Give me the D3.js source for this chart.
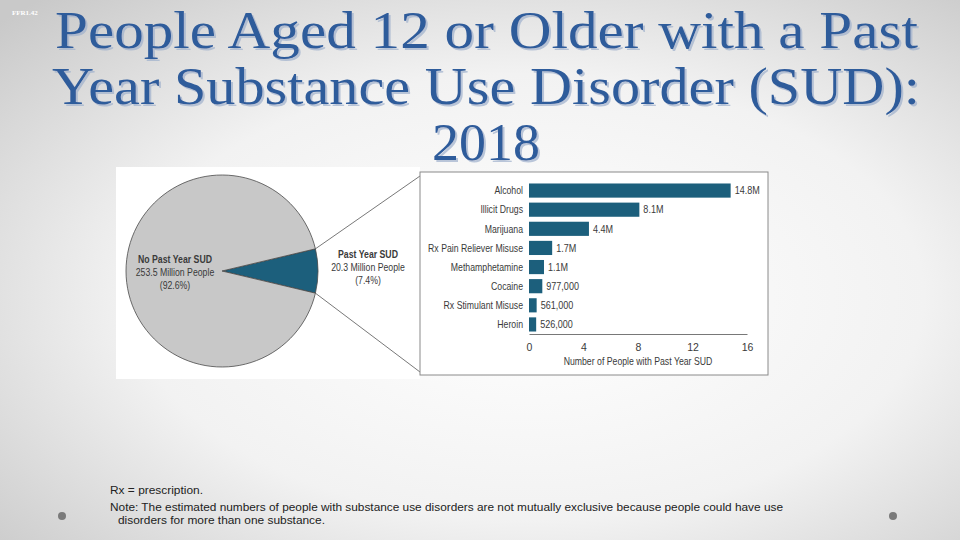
<!DOCTYPE html>
<html>
<head>
<meta charset="utf-8">
<script src="https://cdn.jsdelivr.net/npm/d3@7"></script>
<style>
  html, body { margin: 0; padding: 0; }
  body { width: 960px; height: 540px; overflow: hidden; }
  .narrow { font-family: "Liberation Sans Narrow", "Arial Narrow", "Liberation Sans", sans-serif; }
</style>
</head>
<body>
<svg id="slide" width="960" height="540"></svg>
<script>
'use strict';

// pie data (millions of people aged 12+)
var pieLabels = ["Past Year SUD", "No Past Year SUD"];
var pieValues = [20.3, 253.5];
var piePercents = ["7.4%", "92.6%"];

// bar data
var substances = ["Alcohol", "Illicit Drugs", "Marijuana", "Rx Pain Reliever Misuse",
                  "Methamphetamine", "Cocaine", "Rx Stimulant Misuse", "Heroin"];
var sudMillions = [14.8, 8.1, 4.4, 1.7, 1.1, 0.977, 0.561, 0.526];
var sudLabels = ["14.8M", "8.1M", "4.4M", "1.7M", "1.1M", "977,000", "561,000", "526,000"];
var xTicks = [0, 4, 8, 12, 16];

var titleLines = ["People Aged 12 or Older with a Past",
                  "Year Substance Use Disorder (SUD):",
                  "2018"];

var teal = "#1c5f7c";
var svg = d3.select("#slide");

// slide background
var defs = svg.append("defs");
var grad = defs.append("radialGradient").attr("id", "bg")
    .attr("cx", "0.55").attr("cy", "0.55").attr("r", "0.75");
grad.append("stop").attr("offset", "0%").attr("stop-color", "#ffffff");
grad.append("stop").attr("offset", "55%").attr("stop-color", "#f2f2f2");
grad.append("stop").attr("offset", "100%").attr("stop-color", "#c9c9c9");
var shadow = defs.append("filter").attr("id", "shadow")
    .attr("x", "-5%").attr("y", "-10%").attr("width", "110%").attr("height", "130%");
shadow.append("feDropShadow").attr("dx", 2).attr("dy", 2).attr("stdDeviation", 0.6)
    .attr("flood-color", "#9fb0cc").attr("flood-opacity", 0.7);
svg.append("rect").attr("width", 960).attr("height", 540).attr("fill", "url(#bg)");

svg.append("text")
    .attr("x", 12).attr("y", 15)
    .attr("font-family", "Liberation Serif, serif")
    .attr("font-size", 7).attr("font-weight", "bold")
    .attr("fill", "#ffffff")
    .text("FFR1.42");

// squeeze a text to look like a condensed face
function condense(sel, k) {
    sel.each(function () {
        var w = this.getComputedTextLength();
        d3.select(this).attr("textLength", w * k).attr("lengthAdjust", "spacingAndGlyphs");
    });
}

// title
function drawTitle() {
    var spans = [[55, 918], [52, 920], [432, 540]];
    var baselines = [48, 104, 160];
    titleLines.forEach(function (t, i) {
        svg.append("text")
            .attr("x", spans[i][0]).attr("y", baselines[i])
            .attr("font-family", "Liberation Serif, 'DejaVu Serif', serif")
            .attr("font-size", 53)
            .attr("fill", "#2f5b9b")
            .attr("filter", "url(#shadow)")
            .attr("textLength", spans[i][1] - spans[i][0])
            .attr("lengthAdjust", "spacingAndGlyphs")
            .text(t);
    });
}

function drawPie() {
    svg.append("rect").attr("x", 116).attr("y", 167).attr("width", 304).attr("height", 212)
        .attr("fill", "#ffffff");

    var cx = 222, cy = 271, r = 96;
    var total = d3.sum(pieValues);
    var a = 2 * Math.PI * pieValues[0] / total;
    var pie = d3.pie().sort(null)
        .startAngle(Math.PI / 2 - a / 2)
        .endAngle(Math.PI / 2 - a / 2 + 2 * Math.PI);
    var arcs = pie(pieValues);
    var arc = d3.arc().innerRadius(0).outerRadius(r);

    var g = svg.append("g").attr("transform", "translate(" + cx + "," + cy + ")");
    g.selectAll("path").data(arcs).enter().append("path")
        .attr("d", arc)
        .attr("fill", function (d, i) { return i === 0 ? teal : "#c8c8c8"; })
        .attr("stroke", "#4a4a4a").attr("stroke-width", 0.8);

    // connector lines from the slice edge to the bar box
    var s = arcs[0];
    var p1 = [cx + r * Math.sin(s.startAngle), cy - r * Math.cos(s.startAngle)];
    var p2 = [cx + r * Math.sin(s.endAngle), cy - r * Math.cos(s.endAngle)];
    svg.append("line").attr("x1", p1[0]).attr("y1", p1[1]).attr("x2", 420).attr("y2", 176)
        .attr("stroke", "#555").attr("stroke-width", 0.8);
    svg.append("line").attr("x1", p2[0]).attr("y1", p2[1]).attr("x2", 420).attr("y2", 372)
        .attr("stroke", "#555").attr("stroke-width", 0.8);

    var labels = [
        { x: 368, y: 258, lines: [pieLabels[0], pieValues[0] + " Million People", "(" + piePercents[0] + ")"] },
        { x: 175, y: 263, lines: [pieLabels[1], pieValues[1] + " Million People", "(" + piePercents[1] + ")"] }
    ];
    labels.forEach(function (l) {
        l.lines.forEach(function (t, j) {
            var tx = svg.append("text").attr("class", "narrow")
                .attr("x", l.x).attr("y", l.y + j * 13)
                .attr("text-anchor", "middle")
                .attr("font-size", 10.5)
                .attr("font-weight", j === 0 ? "bold" : "normal")
                .attr("fill", "#3a3a3a")
                .text(t);
            condense(tx, 0.83);
        });
    });
}

function drawBars() {
    svg.append("rect").attr("x", 420).attr("y", 172).attr("width", 348).attr("height", 203)
        .attr("fill", "#ffffff").attr("stroke", "#8a8a8a").attr("stroke-width", 1);

    var x = d3.scaleLinear().domain([0, 16]).range([529, 747]);
    var y = d3.scaleBand().domain(substances).range([181, 334]).paddingInner(0.26).paddingOuter(0.13);

    var g = svg.append("g");
    g.selectAll("rect.bar").data(substances).enter().append("rect")
        .attr("class", "bar")
        .attr("x", x(0))
        .attr("y", function (d) { return y(d); })
        .attr("width", function (d, i) { return x(sudMillions[i]) - x(0); })
        .attr("height", y.bandwidth())
        .attr("fill", teal);

    var cats = g.selectAll("text.cat").data(substances).enter().append("text")
        .attr("class", "narrow cat")
        .attr("x", 523)
        .attr("y", function (d) { return y(d) + y.bandwidth() / 2 + 3.8; })
        .attr("text-anchor", "end")
        .attr("font-size", 10.5).attr("fill", "#3a3a3a")
        .text(function (d) { return d; });
    condense(cats, 0.83);

    var vals = g.selectAll("text.val").data(substances).enter().append("text")
        .attr("class", "narrow val")
        .attr("x", function (d, i) { return x(sudMillions[i]) + 4; })
        .attr("y", function (d) { return y(d) + y.bandwidth() / 2 + 3.8; })
        .attr("font-size", 10.5).attr("fill", "#3a3a3a")
        .text(function (d, i) { return sudLabels[i]; });
    condense(vals, 0.86);

    var axis = d3.axisBottom(x).tickValues(xTicks).tickSize(0).tickPadding(10);
    var ax = svg.append("g").attr("transform", "translate(0,334)").call(axis);
    ax.select(".domain").attr("stroke", "#555").attr("stroke-width", 0.8);
    ax.selectAll("text").attr("class", "narrow").attr("font-size", 10.5).attr("fill", "#3a3a3a");

    var title = svg.append("text").attr("class", "narrow")
        .attr("x", 638).attr("y", 365)
        .attr("text-anchor", "middle")
        .attr("font-size", 10.5).attr("fill", "#3a3a3a")
        .text("Number of People with Past Year SUD");
    condense(title, 0.83);
}

function drawNotes() {
    var notes = [
        { x: 110, y: 494, t: "Rx = prescription.", w: 93 },
        { x: 110, y: 511, t: "Note: The estimated numbers of people with substance use disorders are not mutually exclusive because people could have use", w: 673 },
        { x: 118, y: 524, t: "disorders for more than one substance.", w: 207 }
    ];
    notes.forEach(function (n) {
        svg.append("text")
            .attr("x", n.x).attr("y", n.y)
            .attr("font-family", "'Liberation Sans Narrow', 'Liberation Sans', sans-serif")
            .attr("font-size", 11).attr("fill", "#222")
            .attr("textLength", n.w).attr("lengthAdjust", "spacingAndGlyphs")
            .text(n.t);
    });
    svg.selectAll("circle.dot").data([62, 893]).enter().append("circle")
        .attr("class", "dot")
        .attr("cx", function (d) { return d; }).attr("cy", 516).attr("r", 4)
        .attr("fill", "#7a7a7a");
}

drawTitle();
drawPie();
drawBars();
drawNotes();
</script>
</body>
</html>
